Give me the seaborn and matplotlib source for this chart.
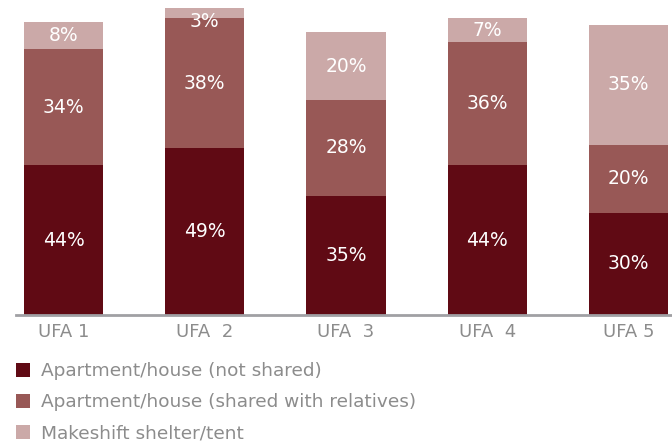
import pandas as pd
import numpy as np
import matplotlib.pyplot as plt
import seaborn as sns
from matplotlib.patches import Patch

sns.set_style("white")
plt.rcParams['font.family'] = ['DejaVu Sans']

# Data
regions = ['UFA 1', 'UFA  2', 'UFA  3', 'UFA  4', 'UFA 5']
not_shared = [44, 49, 35, 44, 30]
shared_relatives = [34, 38, 28, 36, 20]
makeshift = [8, 3, 20, 7, 35]

series_names = ['Apartment/house (not shared)',
                'Apartment/house (shared with relatives)',
                'Makeshift shelter/tent']
colors = ['#600a14', '#985856', '#cba9a8']
text_gray = '#8c8c8c'

df = pd.DataFrame({'region': regions,
                   series_names[0]: not_shared,
                   series_names[1]: shared_relatives,
                   series_names[2]: makeshift})

# cumulative heights for stacking
cum = df[series_names].cumsum(axis=1)

fig = plt.figure(figsize=(6.72, 4.47), dpi=100)
ax = fig.add_axes([16 / 672, 1 - 315 / 447, 1 - 16 / 672, 315 / 447])

# draw tallest stack first, then the lower ones over it
for i in reversed(range(3)):
    sns.barplot(x=df['region'], y=cum[series_names[i]], color=colors[i],
                width=0.56, saturation=1, linewidth=0, ax=ax, order=regions)

# value labels in the middle of every segment
for i, name in enumerate(series_names):
    bottoms = cum[name] - df[name]
    for j, v in enumerate(df[name]):
        y = bottoms[j] + v / 2
        if v < 5:
            y = cum[name][j] - 4
        ax.text(j, y, f"{v}%", ha='center', va='center',
                color='white', fontsize=13.5)

ax.set_xlim(-0.336, 4.308)
ax.set_ylim(0, 92.4)
ax.set_xlabel('')
ax.set_ylabel('')
ax.set_yticks([])
for s in ['top', 'right', 'left']:
    ax.spines[s].set_visible(False)
ax.spines['bottom'].set_color('#a0a0a4')
ax.spines['bottom'].set_linewidth(2)
ax.tick_params(axis='x', length=0, pad=6, labelsize=13, labelcolor=text_gray)

handles = [Patch(facecolor=c, edgecolor='none') for c in colors]
fig.legend(handles, series_names, loc='upper left', bbox_to_anchor=(0.024, 0.19),
           frameon=False, fontsize=13.3, labelcolor=text_gray,
           handlelength=0.77, handleheight=0.77, handletextpad=0.55,
           labelspacing=0.72, borderaxespad=0, borderpad=0)

fig.savefig('out.png', dpi=100)
